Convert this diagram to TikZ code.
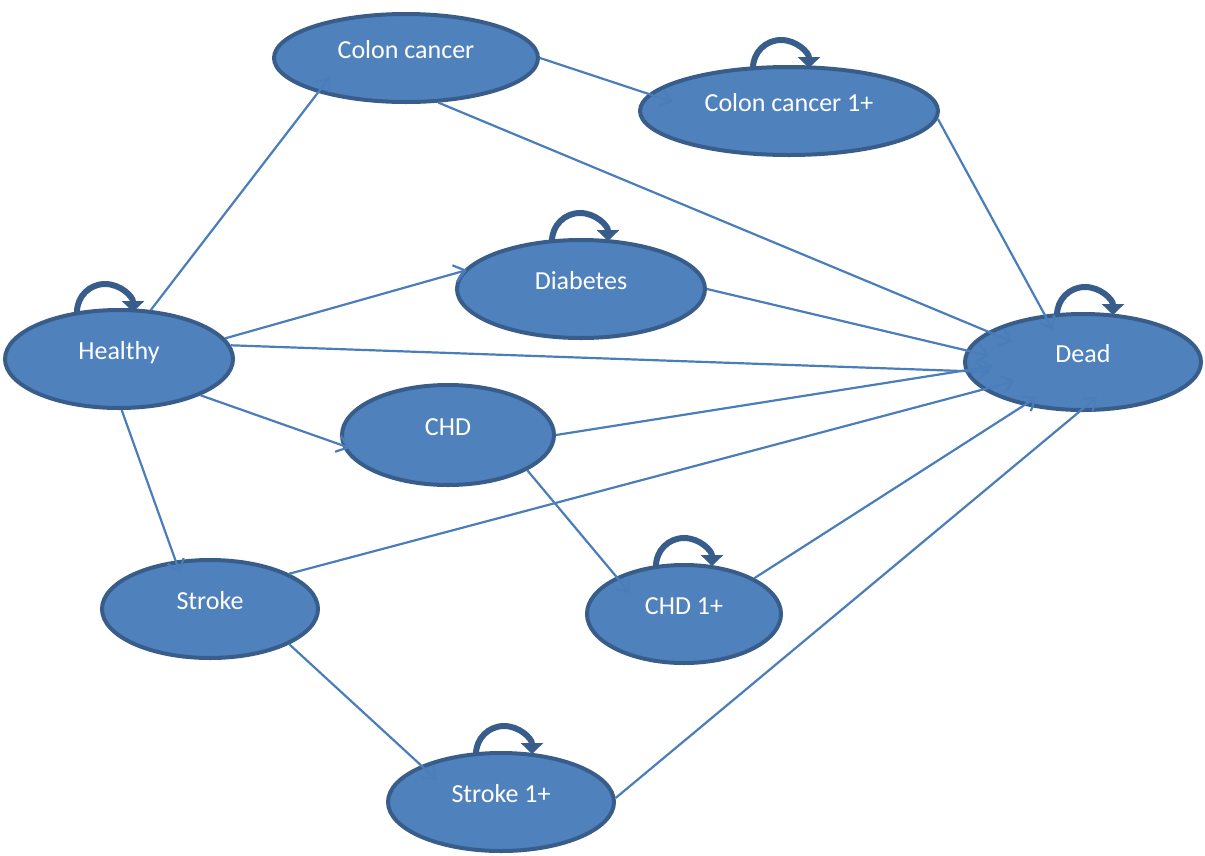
\documentclass[tikz,border=0pt]{standalone}
\usepackage{fontspec}
\setmainfont{Carlito}
\usetikzlibrary{shapes.geometric,arrows.meta}
\definecolor{stfill}{HTML}{4F81BD}
\definecolor{stborder}{HTML}{385D8A}
\definecolor{edgecol}{HTML}{4A7EBB}
\tikzset{
  stnode/.style={ellipse, draw=stborder, fill=stfill, line width=4pt, inner sep=0pt,
    text=white, font=\fontsize{26}{30}\selectfont, text height=8pt, text depth=8pt},
  trans/.style={draw=edgecol, line width=2.2pt, -{Straight Barb[length=11pt,width=17pt]}},
  selfloop/.style={draw=stborder, line width=6pt, -{Triangle[length=11pt,width=22pt]}}
}
\begin{document}
\begin{tikzpicture}[x=1pt,y=-1pt]
\useasboundingbox (0,0) rectangle (1205,855);
% states
\node[stnode, minimum width=264pt, minimum height=88pt] (cc) at (406,58) {Colon cancer};
\node[stnode, minimum width=298pt, minimum height=88pt] (cc1) at (789,111) {Colon cancer 1+};
\node[stnode, minimum width=248pt, minimum height=98pt] (dia) at (581,289) {Diabetes};
\node[stnode, minimum width=228pt, minimum height=98pt] (h) at (119,359) {Healthy};
\node[stnode, minimum width=236pt, minimum height=96pt] (dead) at (1083,362) {Dead};
\node[stnode, minimum width=212pt, minimum height=100pt] (chd) at (448,435) {CHD};
\node[stnode, minimum width=216pt, minimum height=98pt] (st) at (210,609) {Stroke};
\node[stnode, minimum width=194pt, minimum height=98pt] (chd1) at (684,614) {CHD 1+};
\node[stnode, minimum width=226pt, minimum height=98pt] (st1) at (501,802) {Stroke 1+};
% transitions
\draw[trans] (h.57) -- ([shift={(-76,19)}]cc.center);
\draw[trans] (h.11) -- ([shift={(-114,-19)}]dia.center);
\draw[trans] (h.7) -- ([shift={(-93,10)}]dead.center);
\draw[trans] (h.-24) -- ([shift={(-98,13)}]chd.center);
\draw[trans] (h.-87) -- ([shift={(-30,-36)}]st.center);
\draw[trans] (cc.0) -- ([shift={(-116,-9)}]cc1.center);
\draw[trans] (cc.-54) -- ([shift={(-70,-20)}]dead.center);
\draw[trans] (cc1.-3) -- ([shift={(-30,-32)}]dead.center);
\draw[trans] (dia.0) -- ([shift={(-93,-6)}]dead.center);
\draw[trans] (chd.0) -- ([shift={(-90,4)}]dead.center);
\draw[trans] (chd.-24) -- ([shift={(-54,-21)}]chd1.center);
\draw[trans] (st.24) -- ([shift={(-68,19)}]dead.center);
\draw[trans] (st.-24) -- ([shift={(-64,-22)}]st1.center);
\draw[trans] (chd1.27) -- ([shift={(-46,35)}]dead.center);
\draw[trans] (st1.2) -- ([shift={(14,35)}]dead.center);
% self loops
\draw[selfloop] ([xshift=-42pt,yshift=-4pt]h.north) arc[start angle=180,end angle=0,radius=28pt];
\draw[selfloop] ([xshift=-36pt,yshift=-3pt]cc1.north) arc[start angle=180,end angle=0,radius=28pt];
\draw[selfloop] ([xshift=-29pt,yshift=-3pt]dia.north) arc[start angle=180,end angle=0,radius=28pt];
\draw[selfloop] ([xshift=-26pt,yshift=-3pt]dead.north) arc[start angle=180,end angle=0,radius=28pt];
\draw[selfloop] ([xshift=-28pt,yshift=-3pt]chd1.north) arc[start angle=180,end angle=0,radius=28pt];
\draw[selfloop] ([xshift=-25pt,yshift=-3pt]st1.north) arc[start angle=180,end angle=0,radius=28pt];
\end{tikzpicture}
\end{document}
